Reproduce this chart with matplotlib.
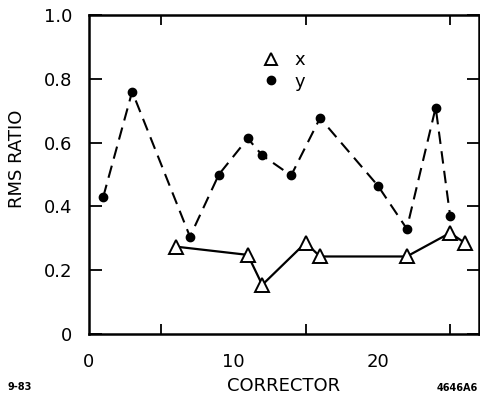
import numpy as np
import matplotlib.pyplot as plt
from matplotlib.lines import Line2D

plt.rcParams['font.family'] = ['DejaVu Sans']

# data
x_corr = [6, 11, 12, 15, 16, 22, 25, 26]
x_ratio = [0.274, 0.248, 0.154, 0.286, 0.243, 0.243, 0.317, 0.286]

y_corr = [1, 3, 7, 9, 11, 12, 14, 16, 20, 22, 24, 25]
y_ratio = [0.43, 0.76, 0.305, 0.50, 0.613, 0.56, 0.497, 0.677, 0.465, 0.33, 0.71, 0.37]

yticks = [0, 0.2, 0.4, 0.6, 0.8, 1.0]
ytick_labels = ['0', '0.2', '0.4', '0.6', '0.8', '1.0']
xticks = [0, 10, 20]

fig = plt.figure(figsize=(4.8, 4.0), dpi=100)
ax = fig.add_axes([0.185, 0.165, 0.813, 0.7975])

ax.plot(y_corr, y_ratio, color='black', lw=1.5, ls=(0, (6, 3.5)),
        marker='o', ms=6, mfc='black', mec='black', zorder=3)
ax.plot(x_corr, x_ratio, color='black', lw=1.6, ls='-',
        marker='^', ms=9.5, mfc='white', mec='black', mew=1.4, zorder=4)

ax.set_xlim(0, 27)
ax.set_ylim(0, 1.0)
ax.set_xticks(xticks)
ax.set_xticks(np.arange(0, 27, 5), minor=True)
ax.set_yticks(yticks)
ax.set_yticklabels(ytick_labels)

ax.tick_params(axis='both', which='both', direction='in', top=True, right=True,
               width=1.3, labelsize=13)
ax.tick_params(axis='y', length=9, pad=12)
ax.tick_params(axis='x', which='major', length=0, pad=14)
ax.tick_params(axis='x', which='minor', length=7)

for s in ax.spines.values():
    s.set_linewidth(1.8)

ax.set_xlabel('CORRECTOR', fontsize=13, labelpad=4)
ax.set_ylabel('RMS RATIO', fontsize=13)
ax.yaxis.set_label_coords(-0.16, 0.55)

handles = [
    Line2D([], [], ls='none', marker='^', ms=8, mfc='white', mec='black', mew=1.4),
    Line2D([], [], ls='none', marker='o', ms=6, mfc='black', mec='black'),
]
ax.legend(handles, ['x', 'y'], frameon=False, fontsize=13, handlelength=1.0,
          handletextpad=0.8, labelspacing=0.2, borderpad=0,
          loc='upper left', bbox_to_anchor=(0.42, 0.915))

fig.text(0.015, 0.025, '9-83', fontsize=7, fontweight='bold')
fig.text(0.995, 0.022, '4646A6', fontsize=7, fontweight='bold', ha='right')

fig.savefig('out.png', dpi=100)
